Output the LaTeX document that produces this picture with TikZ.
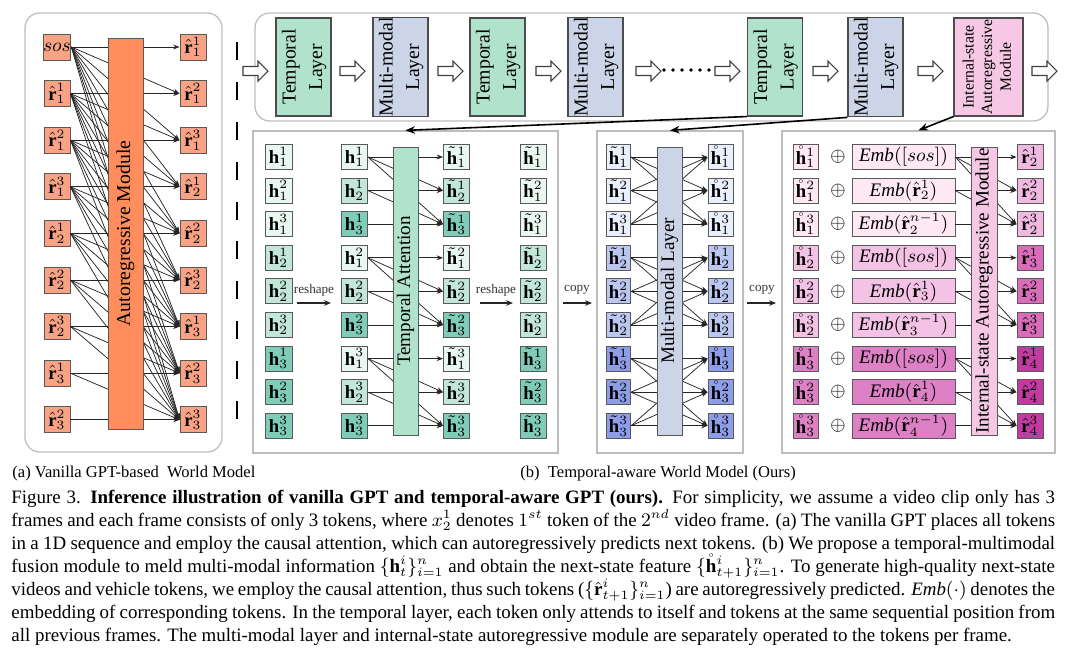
\documentclass[tikz,border=0pt]{standalone}
\usepackage{fontspec}
\setmainfont{Liberation Serif}
\usetikzlibrary{arrows.meta}

\def\pxu{0.4714pt}
\newlength{\capw}
\setlength{\capw}{492pt}

\definecolor{orgbar}{HTML}{FF8D5E}
\definecolor{orgtok}{HTML}{F9A384}
\definecolor{tmpbox}{HTML}{B1E2CB}
\definecolor{tmp1}{HTML}{E8F8F0}
\definecolor{tmp2}{HTML}{C2E6D8}
\definecolor{tmp3}{HTML}{7FCDB9}
\definecolor{mmbox}{HTML}{CCD5E8}
\definecolor{mm1}{HTML}{E9EFFC}
\definecolor{mm2}{HTML}{BCC7F1}
\definecolor{mm3}{HTML}{8E9DE8}
\definecolor{isbox}{HTML}{F6C8E6}
\definecolor{is1}{HTML}{FDE8F4}
\definecolor{is2}{HTML}{F3C2E4}
\definecolor{is3}{HTML}{DD80C5}
\definecolor{out1}{HTML}{F0B9E1}
\definecolor{out2}{HTML}{DA6DBA}
\definecolor{out3}{HTML}{C13BA1}
\definecolor{panelgray}{HTML}{BDBDBD}

\newcommand{\hb}{\mathbf{h}}
\newcommand{\rb}{\hat{\mathbf{r}}}
\newcommand{\hollowarrow}[2]{\draw[harrow] (#1-12.5,#2-4.5) -- (#1+2.5,#2-4.5) -- (#1+2.5,#2-10) -- (#1+12.5,#2) -- (#1+2.5,#2+10) -- (#1+2.5,#2+4.5) -- (#1-12.5,#2+4.5) -- cycle;}

\tikzset{
	tok/.style={draw=black!65, line width=0.45pt, inner sep=0pt, minimum width=26*\pxu, minimum height=25*\pxu, font=\fontsize{8.8}{9.5}\selectfont},
	bar/.style={draw=black!65, line width=0.45pt, inner sep=0pt, font=\fontsize{9}{10}\selectfont},
	layerbox/.style={draw=black!70, line width=0.5pt, minimum width=55*\pxu, minimum height=98*\pxu, inner sep=0pt, font=\fontsize{9.3}{12.5}\selectfont},
	panel/.style={draw=panelgray, line width=0.6pt, inner sep=0pt},
	link/.style={black!85, line width=0.35pt},
	flow/.style={black, line width=0.75pt, -{Stealth[length=4.5pt,width=3.6pt]}},
	harrow/.style={draw=black!75, fill=white, line width=0.5pt},
	note/.style={font=\fontsize{6.2}{7}\selectfont, inner sep=0pt, text=black!80},
	noteline/.style={black!85, line width=0.5pt, -{Stealth[length=3.2pt,width=2.6pt]}},
	capline/.style={inner sep=0pt, anchor=north west, align=left, font=\fontsize{8.92}{10.85}\selectfont},
}

\begin{document}
\begin{tikzpicture}[x=\pxu, y=-\pxu, >={Stealth[length=3pt,width=2.3pt]}]
	\useasboundingbox (0,0) rectangle (1080,654);

	\node[panel, rounded corners=7pt, minimum width=197*\pxu, minimum height=439*\pxu] (lpanel) at (123.5,232.5) {};
	\node[panel, rounded corners=7pt, minimum width=793*\pxu, minimum height=108*\pxu] (toppanel) at (651.5,67) {};
	\node[panel, minimum width=305*\pxu, minimum height=322*\pxu] (tpanel) at (405.5,292) {};
	\node[panel, minimum width=146*\pxu, minimum height=322*\pxu] (mpanel) at (670,292) {};
	\node[panel, minimum width=273*\pxu, minimum height=322*\pxu] (ipanel) at (918.5,292) {};

	\foreach \k in {0,...,8}{
		\pgfmathsetmacro\yy{47+46.6*\k}
		\pgfmathtruncatemacro\frm{int(\k/3)+1}
		\pgfmathtruncatemacro\tkn{mod(\k,3)+1}
		\pgfmathtruncatemacro\pfrm{int((\k+2)/3)}
		\pgfmathtruncatemacro\ptkn{mod(\k+2,3)+1}
		\ifnum\k=0
			\node[tok, minimum height=26*\pxu, fill=orgtok] (lin\k) at (57,\yy) {$sos$};
		\else
			\node[tok, minimum height=26*\pxu, fill=orgtok] (lin\k) at (57,\yy) {$\rb_{\pfrm}^{\ptkn}$};
		\fi
		\node[tok, minimum height=26*\pxu, fill=orgtok] (lout\k) at (193,\yy) {$\rb_{\frm}^{\tkn}$};
	}
	\foreach \a in {0,...,8}
		\foreach \b in {\a,...,8}
			\draw[link, ->] (lin\a.east) -- (lout\b.west);
	\node[bar, fill=orgbar, minimum width=35*\pxu, minimum height=391*\pxu, font=\fontsize{9.3}{10}\selectfont] (armod) at (125.5,233.5) {\rotatebox{90}{Autoregressive Module}};

	\draw[black, line width=0.8pt, dash pattern=on 8.5pt off 10.3pt] (237,42) -- (237,430);

	\node[layerbox, fill=tmpbox] (tl1) at (303.5,67) {\rotatebox{90}{\begin{tabular}{@{}c@{}}Temporal\\Layer\end{tabular}}};
	\node[layerbox, fill=mmbox] (ml1) at (400.5,67) {\rotatebox{90}{\begin{tabular}{@{}c@{}}Multi-modal\\Layer\end{tabular}}};
	\node[layerbox, fill=tmpbox] (tl2) at (497.5,67) {\rotatebox{90}{\begin{tabular}{@{}c@{}}Temporal\\Layer\end{tabular}}};
	\node[layerbox, fill=mmbox] (ml2) at (595.5,67) {\rotatebox{90}{\begin{tabular}{@{}c@{}}Multi-modal\\Layer\end{tabular}}};
	\node[layerbox, fill=tmpbox] (tl3) at (775,67) {\rotatebox{90}{\begin{tabular}{@{}c@{}}Temporal\\Layer\end{tabular}}};
	\node[layerbox, fill=mmbox] (ml3) at (875.5,67) {\rotatebox{90}{\begin{tabular}{@{}c@{}}Multi-modal\\Layer\end{tabular}}};
	\node[layerbox, fill=isbox, minimum width=69*\pxu, font=\fontsize{7.4}{8.8}\selectfont] (isbox) at (988.5,67) {\rotatebox{90}{\begin{tabular}{@{}c@{}}Internal-state\\Autoregressive\\Module\end{tabular}}};
	\foreach \xx in {255.5,352.5,450.5,548.5,648.5,727.5,825.5,930.5,1044.5}
		\hollowarrow{\xx}{71}
	\foreach \d in {0,...,5}
		\fill (664+9*\d,70) circle (0.6pt);

	\draw[flow] (tl3.south west) -- (tpanel.north);
	\draw[flow] (ml3.south west) -- (mpanel.north);
	\draw[flow] (isbox.south west) -- (ipanel.north);

	\foreach \k in {0,...,8}{
		\pgfmathsetmacro\yy{157+33.6*\k}
		\pgfmathtruncatemacro\frm{int(\k/3)+1}
		\pgfmathtruncatemacro\tkn{mod(\k,3)+1}
		\pgfmathtruncatemacro\nfrm{\frm+1}
		\node[tok, minimum width=27*\pxu, fill=tmp\frm] (ta\k) at (278.5,\yy) {$\hb_{\frm}^{\tkn}$};
		\node[tok, fill=tmp\tkn] (tb\k) at (354.5,\yy) {$\hb_{\tkn}^{\frm}$};
		\node[tok, fill=tmp\tkn] (tc\k) at (456.5,\yy) {$\tilde{\hb}_{\tkn}^{\frm}$};
		\node[tok, fill=tmp\frm] (td\k) at (533,\yy) {$\tilde{\hb}_{\frm}^{\tkn}$};
		\node[tok, minimum width=24*\pxu, fill=mm\frm] (ma\k) at (618.5,\yy) {$\tilde{\hb}_{\frm}^{\tkn}$};
		\node[tok, minimum width=25*\pxu, fill=mm\frm] (mb\k) at (720.5,\yy) {$\mathring{\hb}_{\frm}^{\tkn}$};
		\node[tok, minimum width=25*\pxu, fill=is\frm] (ia\k) at (805.5,\yy) {$\mathring{\hb}_{\frm}^{\tkn}$};
		\node[inner sep=0pt, font=\fontsize{9}{10}\selectfont] (op\k) at (838,\yy) {$\oplus$};
		\node[tok, minimum width=103*\pxu, fill=is\frm, font=\fontsize{9}{10}\selectfont] (ie\k) at (903.5,\yy) {\ifcase\tkn\or$\mathit{Emb}([sos])$\or$\mathit{Emb}(\rb_{\nfrm}^{1})$\or$\mathit{Emb}(\rb_{\nfrm}^{n-1})$\fi};
		\node[tok, fill=out\frm] (io\k) at (1030,\yy) {$\rb_{\nfrm}^{\tkn}$};
	}

	\foreach \g in {0,1,2}
		\foreach \a in {0,1,2}{
			\foreach \b in {\a,...,2}{
				\pgfmathtruncatemacro\src{3*\g+\a}
				\pgfmathtruncatemacro\dst{3*\g+\b}
				\draw[link, ->] (tb\src.east) -- (tc\dst.west);
				\draw[link, ->] (ie\src.east) -- (io\dst.west);
			}
			\foreach \b in {0,1,2}{
				\pgfmathtruncatemacro\src{3*\g+\a}
				\pgfmathtruncatemacro\dst{3*\g+\b}
				\draw[link, ->] (ma\src.east) -- (mb\dst.west);
			}
		}

	\node[bar, fill=tmpbox, minimum width=25*\pxu, minimum height=288*\pxu] (tattn) at (405.5,291) {\rotatebox{90}{Temporal Attention}};
	\node[bar, fill=mmbox, minimum width=25*\pxu, minimum height=288*\pxu] (mlayer) at (669.5,291) {\rotatebox{90}{Multi-modal Layer}};
	\node[bar, fill=isbox, minimum width=26*\pxu, minimum height=288*\pxu] (ismod) at (984,291) {\rotatebox{90}{Internal-state Autoregressive Module}};

	\node[note] (rsA) at (314,290) {reshape};
	\draw[noteline] (297,303) -- (331,303);
	\node[note] (rsB) at (496,290) {reshape};
	\draw[noteline] (480,303) -- (513,303);
	\node[note] (cpA) at (577,290) {copy};
	\draw[noteline] (563,303) -- (592,303);
	\node[note] (cpB) at (762,290) {copy};
	\draw[noteline] (747,303) -- (776,303);

	\node[inner sep=0pt, anchor=base west, font=\fontsize{7.8}{9}\selectfont] (suba) at (12,477) {(a) Vanilla GPT-based\ \ World Model};
	\node[inner sep=0pt, anchor=base west, font=\fontsize{7.8}{9}\selectfont] (subb) at (520,477) {(b)\ \ Temporal-aware World Model (Ours)};

	\node[capline] (caption) at (11,490) {%
		\makebox[\capw][s]{Figure 3. \textbf{Inference illustration of vanilla GPT and temporal-aware GPT (ours).} For simplicity, we assume a video clip only has 3}\\
		\makebox[\capw][s]{frames and each frame consists of only 3 tokens, where $x_2^1$ denotes $1^{st}$ token of the $2^{nd}$ video frame. (a) The vanilla GPT places all tokens}\\
		\makebox[\capw][s]{in a 1D sequence and employ the causal attention, which can autoregressively predicts next tokens. (b) We propose a temporal-multimodal}\\
		\makebox[\capw][s]{fusion module to meld multi-modal information $\{\hb_t^i\}_{i=1}^n$ and obtain the next-state feature $\{\mathring{\hb}_{t+1}^i\}_{i=1}^n$. To generate high-quality next-state}\\
		\makebox[\capw][s]{videos and vehicle tokens, we employ the causal attention, thus such tokens ($\{\rb_{t+1}^i\}_{i=1}^n$) are autoregressively predicted. \textit{Emb}$(\cdot)$ denotes the}\\
		\makebox[\capw][s]{embedding of corresponding tokens. In the temporal layer, each token only attends to itself and tokens at the same sequential position from}\\
		all previous frames. The multi-modal layer and internal-state autoregressive module are separately operated to the tokens per frame.};
\end{tikzpicture}
\end{document}
